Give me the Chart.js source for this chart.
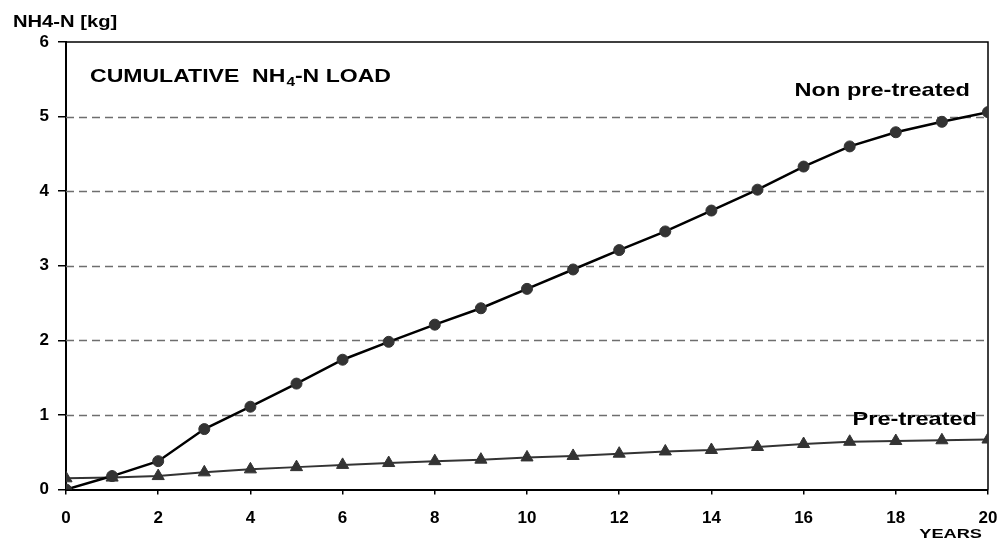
<!DOCTYPE html>
<html>
<head>
<meta charset="utf-8">
<script src="https://cdn.jsdelivr.net/npm/chart.js@4/dist/chart.umd.min.js"></script>
<style>
    html, body { margin: 0; padding: 0; background: #fff; }
    #wrap { width: 1003px; height: 540px; position: relative; }
</style>
</head>
<body>
<div id="wrap"><canvas id="loadChart"></canvas></div>
<script>
// Cumulative NH4-N load
const years = [0, 1, 2, 3, 4, 5, 6, 7, 8, 9, 10, 11, 12, 13, 14, 15, 16, 17, 18, 19, 20];
const nonPretreated = [0, 0.18, 0.38, 0.81, 1.11, 1.42, 1.74, 1.98, 2.21, 2.43, 2.69, 2.95, 3.21, 3.46, 3.74, 4.02, 4.33, 4.60, 4.79, 4.93, 5.06];
const pretreated = [0.15, 0.16, 0.18, 0.23, 0.27, 0.30, 0.33, 0.355, 0.38, 0.40, 0.43, 0.45, 0.48, 0.51, 0.53, 0.57, 0.61, 0.64, 0.65, 0.66, 0.67];
const gridValues = [1, 2, 3, 4, 5];

const FONT = '"Liberation Sans", Arial, sans-serif';

function toPoints(values) {
    return years.map((x, i) => ({ x: x, y: values[i] }));
}

// draw bold text stretched a bit wider, like the original figure
function wideText(ctx, text, x, y, size, sx, align) {
    ctx.save();
    ctx.font = 'bold ' + size + 'px ' + FONT;
    ctx.fillStyle = '#000';
    ctx.textBaseline = 'alphabetic';
    const w = ctx.measureText(text).width * sx;
    let left = x;
    if (align === 'right') left = x - w;
    ctx.translate(left, y);
    ctx.scale(sx, 1);
    ctx.fillText(text, 0, 0);
    ctx.restore();
    return w;
}

const decorPlugin = {
    id: 'decor',
    beforeDatasetsDraw(chart) {
        const ctx = chart.ctx;
        const area = chart.chartArea;
        const yScale = chart.scales.y;

        // dashed grid lines
        ctx.save();
        ctx.strokeStyle = '#6e6e6e';
        ctx.lineWidth = 1.5;
        ctx.setLineDash([8, 5]);
        gridValues.forEach(v => {
            const py = Math.round(yScale.getPixelForValue(v)) + 0.5;
            ctx.beginPath();
            ctx.moveTo(area.left, py);
            ctx.lineTo(area.right, py);
            ctx.stroke();
        });
        ctx.restore();

        // top and right frame
        ctx.save();
        ctx.strokeStyle = '#000';
        ctx.lineWidth = 1.5;
        ctx.beginPath();
        ctx.moveTo(area.left, area.top);
        ctx.lineTo(area.right, area.top);
        ctx.lineTo(area.right, area.bottom);
        ctx.stroke();
        ctx.restore();
    },
    afterDraw(chart) {
        const ctx = chart.ctx;
        const area = chart.chartArea;

        wideText(ctx, 'NH4-N [kg]', 13, 27, 16, 1.26, 'left');
        wideText(ctx, 'YEARS', area.right - 6, 538, 13, 1.4, 'right');
        wideText(ctx, 'Non pre-treated', area.right - 18, 96, 19, 1.24, 'right');
        wideText(ctx, 'Pre-treated', area.right - 11, 425, 19, 1.24, 'right');

        // title with subscript 4
        let x = area.left + 24;
        const base = 82;
        x += wideText(ctx, 'CUMULATIVE  NH', x, base, 18, 1.28, 'left');
        x += wideText(ctx, '4', x + 1, base + 4, 12, 1.28, 'left') + 1;
        wideText(ctx, '-N LOAD', x, base, 18, 1.28, 'left');
    }
};

document.addEventListener('DOMContentLoaded', function() {
    const ctx = document.getElementById('loadChart').getContext('2d');
    new Chart(ctx, {
        type: 'line',
        data: {
            datasets: [
                {
                    label: 'Non pre-treated',
                    data: toPoints(nonPretreated),
                    borderColor: '#000',
                    borderWidth: 2.5,
                    pointStyle: 'circle',
                    pointRadius: 5.5,
                    pointBackgroundColor: '#333',
                    pointBorderColor: '#333',
                    pointBorderWidth: 1,
                    tension: 0
                },
                {
                    label: 'Pre-treated',
                    data: toPoints(pretreated),
                    borderColor: '#333',
                    borderWidth: 2,
                    pointStyle: 'triangle',
                    pointRadius: 7,
                    pointBackgroundColor: '#333',
                    pointBorderColor: '#333',
                    pointBorderWidth: 1,
                    tension: 0
                }
            ]
        },
        options: {
            responsive: true,
            maintainAspectRatio: false,
            animation: false,
            layout: { padding: { top: 42, right: 15, left: 0, bottom: 0 } },
            plugins: {
                legend: { display: false },
                tooltip: { enabled: false }
            },
            scales: {
                x: {
                    type: 'linear',
                    min: 0,
                    max: 20,
                    afterFit: scale => {
                        scale.height = 50.5;
                        scale.paddingLeft = 0;
                        scale.paddingRight = 0;
                    },
                    ticks: {
                        stepSize: 2,
                        color: '#000',
                        padding: 14,
                        maxRotation: 0,
                        font: { family: FONT, size: 17, weight: 'bold' }
                    },
                    grid: {
                        drawOnChartArea: false,
                        drawTicks: true,
                        tickLength: 5,
                        color: '#000',
                        lineWidth: 1.5
                    },
                    border: { display: true, color: '#000', width: 2 }
                },
                y: {
                    min: 0,
                    max: 6,
                    afterFit: scale => {
                        scale.width = 66;
                        scale.paddingTop = 0;
                        scale.paddingBottom = 0;
                    },
                    ticks: {
                        stepSize: 1,
                        color: '#000',
                        padding: 9,
                        font: { family: FONT, size: 17, weight: 'bold' }
                    },
                    grid: {
                        drawOnChartArea: false,
                        drawTicks: true,
                        tickLength: 8,
                        color: '#000',
                        lineWidth: 1.5
                    },
                    border: { display: true, color: '#000', width: 2 }
                }
            }
        },
        plugins: [decorPlugin]
    });
});
</script>
</body>
</html>
